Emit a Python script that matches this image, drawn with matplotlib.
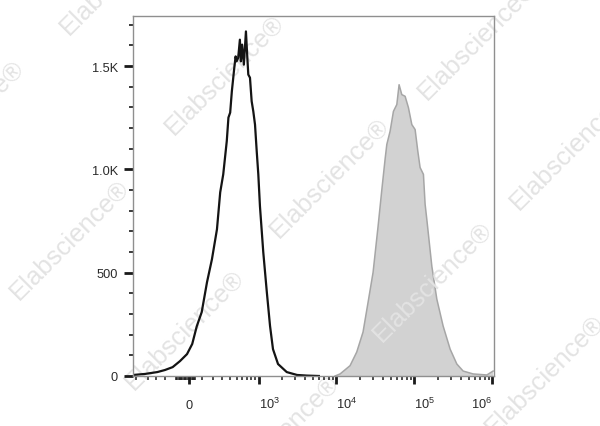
import matplotlib
matplotlib.use("Agg")
import matplotlib.pyplot as plt

plt.rcParams['font.family'] = ['Liberation Sans', 'DejaVu Sans']
plt.rcParams['mathtext.fontset'] = 'custom'
plt.rcParams['mathtext.rm'] = 'Liberation Sans'

# control / unstained histogram (black outline)
black_x = [-650, -440, -280, -200, -130, -70, -15, 25, 60, 100,
           145, 190, 240, 275, 310, 354, 376, 400, 424, 461,
           482, 498, 525, 555, 573, 597, 631, 674, 704, 726,
           765, 806, 848, 894, 942, 989, 1040, 1150, 1280, 1410,
           1540, 1790, 2320, 3150, 4200, 6000]
black_y = [5, 10, 19, 29, 43, 72, 106, 155, 240, 309,
           454, 565, 710, 889, 976, 1137, 1251, 1275, 1378, 1492,
           1547, 1523, 1540, 1628, 1523, 1604, 1507, 1668, 1541, 1459,
           1444, 1330, 1281, 1217, 1088, 976, 821, 599, 406, 242,
           130, 58, 19, 5, 2, 0]

# stained histogram (grey filled)
gray_x = [9700, 11230, 15070, 18360, 22120, 25650, 29740, 34470, 38450, 42400,
          44600, 49150, 54200, 59900, 64060, 69400, 76500, 84400, 93270, 102800,
          111300, 119100, 131400, 138100, 145200, 168400, 195100, 234900, 288900, 352000,
          423800, 569400, 853000, 1027000]
gray_y = [0, 10, 50, 116, 213, 357, 502, 725, 900, 1050,
          1121, 1185, 1281, 1314, 1410, 1362, 1354, 1299, 1217, 1193,
          1088, 1009, 976, 831, 758, 531, 372, 242, 130, 58,
          24, 10, 5, 24]

x_major = [0, 1e3, 1e4, 1e5, 1e6]
x_labels = ['0', r'$\mathregular{10^3}$', r'$\mathregular{10^4}$',
            r'$\mathregular{10^5}$', r'$\mathregular{10^6}$']
y_major = [0, 500, 1000, 1500]
y_labels = ['0', '500', '1.0K', '1.5K']

# watermark centres in figure pixels
wm_pos = [(120, -25), (-35, 120), (225, 75), (478, 40), (570, 150),
          (70, 240), (330, 178), (433, 282), (185, 330), (545, 375), (280, 435)]

fig = plt.figure(figsize=(6, 4.27), dpi=100)
ax = fig.add_axes([133 / 600, 50 / 427, 361 / 600, 360.5 / 427])

ax.set_xscale('asinh', linear_width=260)
ax.fill_between(gray_x, 0, gray_y, facecolor='#d2d2d2', edgecolor='none', zorder=1)
ax.plot(gray_x, gray_y, color='#a6a6a6', lw=1.1, zorder=1.1)
ax.plot(black_x, black_y, color='#141414', lw=1.6, zorder=2)

for px, py in wm_pos:
    ax.text(px / 600, 1 - py / 427, 'Elabscience®', transform=fig.transFigure,
            ha='center', va='center', rotation=45, rotation_mode='anchor',
            fontsize=18.5, color='#e3e3e3', clip_on=False, zorder=1.5)

ax.set_xlim(-653, 1.054e6)
ax.set_ylim(0, 1745)

ax.set_xticks(x_major)
ax.set_xticklabels(x_labels)
minor_x = [-600, -400, -300, -200] + [v for v in range(-100, 60, 10) if v != 0] \
    + [m * 100 for m in range(1, 10)] \
    + [m * 10 ** k for k in (3, 4, 5) for m in range(2, 10)]
ax.set_xticks(minor_x, minor=True)
ax.set_yticks(y_major)
ax.set_yticklabels(y_labels)
ax.set_yticks(range(100, 1800, 100), minor=True)

for s in ax.spines.values():
    s.set_color('#8f8f8f')
    s.set_linewidth(1.0)

ax.tick_params(axis='y', which='major', length=6.5, width=2, pad=4.3,
               labelsize=9.2, colors='#1a1a1a', labelcolor='#2a2a2a')
ax.tick_params(axis='y', which='minor', length=3.2, width=1.2, colors='#1a1a1a')
ax.tick_params(axis='x', which='major', length=5.8, width=2, pad=17.2,
               labelsize=9.2, colors='#1a1a1a', labelcolor='#2a2a2a')
ax.tick_params(axis='x', which='minor', length=3.0, width=1.1, colors='#1a1a1a')

labs = ax.get_xticklabels()
for i, lb in enumerate(labs):
    lb.set_va('baseline')
    if i > 0:
        lb.set_ha('left')
labs[-1].set_ha('right')

fig.savefig('out.png', dpi=100)
